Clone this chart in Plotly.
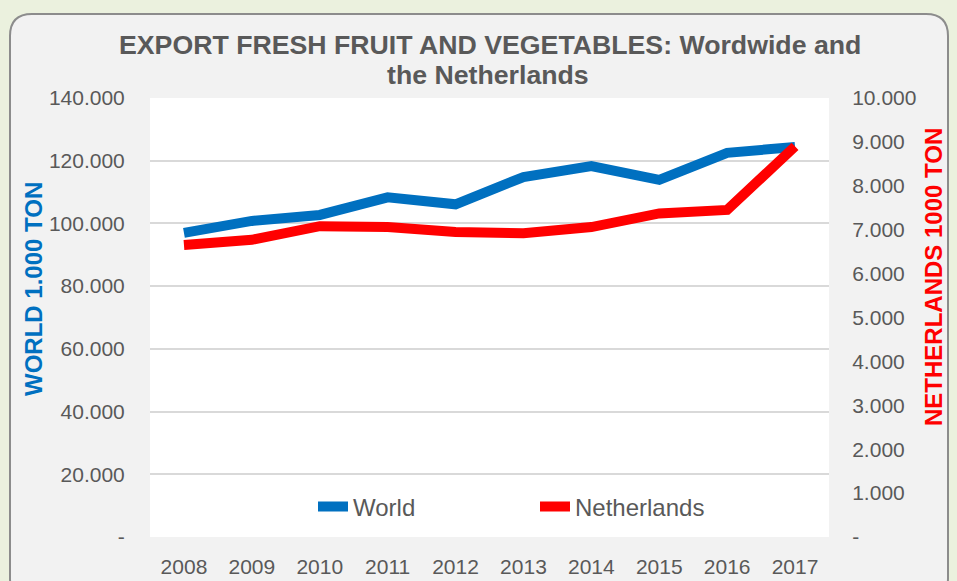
import plotly.graph_objects as go

years = ["2008", "2009", "2010", "2011", "2012", "2013", "2014", "2015", "2016", "2017"]
world = [97000, 100800, 102700, 108300, 106100, 114800, 118300, 113900, 122500, 124400]
netherlands = [6650, 6770, 7080, 7060, 6950, 6920, 7060, 7370, 7450, 8900]

left_ticks = [0, 20000, 40000, 60000, 80000, 100000, 120000, 140000]
left_labels = ["-", "20.000", "40.000", "60.000", "80.000", "100.000", "120.000", "140.000"]
right_ticks = [0, 1000, 2000, 3000, 4000, 5000, 6000, 7000, 8000, 9000, 10000]
right_labels = ["-", "1.000", "2.000", "3.000", "4.000", "5.000", "6.000", "7.000", "8.000", "9.000", "10.000"]

W, H = 957, 581
ML, MR, MT, MB = 150, 128, 98, 44
PW, PH = W - ML - MR, H - MT - MB

def px(x):
    return (x - ML) / PW

def py(y):
    return (H - MB - y) / PH

FONT = "Liberation Sans, Arial, sans-serif"
GRAY = "#595959"

fig = go.Figure()
fig.add_trace(go.Scatter(x=years, y=world, name="World", mode="lines",
                         line=dict(color="#0070c0", width=10)))
fig.add_trace(go.Scatter(x=years, y=netherlands, name="Netherlands", mode="lines",
                         line=dict(color="#ff0000", width=10), yaxis="y2"))

# rounded outer box
x0, x1, y0, y1, r = 10, 948, 14, 600, 22
path = (f"M {px(x0)},{py(y0 + r)} Q {px(x0)},{py(y0)} {px(x0 + r)},{py(y0)} "
        f"L {px(x1 - r)},{py(y0)} Q {px(x1)},{py(y0)} {px(x1)},{py(y0 + r)} "
        f"L {px(x1)},{py(y1 - r)} Q {px(x1)},{py(y1)} {px(x1 - r)},{py(y1)} "
        f"L {px(x0 + r)},{py(y1)} Q {px(x0)},{py(y1)} {px(x0)},{py(y1 - r)} Z")
shapes = [
    dict(type="path", xref="paper", yref="paper", path=path, fillcolor="#f2f2f2",
         line=dict(color="#8c8c8c", width=2), layer="below"),
    dict(type="rect", xref="paper", yref="paper", x0=0, x1=1, y0=0, y1=1,
         fillcolor="#ffffff", line=dict(width=0), layer="below"),
]

annotations = [
    dict(text="<b>EXPORT FRESH FRUIT AND VEGETABLES: Wordwide and</b>", xref="paper", yref="paper",
         x=px(490), y=py(45), xanchor="center", yanchor="middle", showarrow=False,
         font=dict(family=FONT, size=26.7, color=GRAY)),
    dict(text="<b>the Netherlands</b>", xref="paper", yref="paper",
         x=px(488), y=py(75), xanchor="center", yanchor="middle", showarrow=False,
         font=dict(family=FONT, size=26.7, color=GRAY)),
    dict(text="<b>WORLD 1.000 TON</b>", xref="paper", yref="paper", x=px(33), y=py(289),
         xanchor="center", yanchor="middle",
         textangle=-90, showarrow=False, font=dict(family=FONT, size=24, color="#0070c0")),
    dict(text="<b>NETHERLANDS 1000 TON</b>", xref="paper", yref="paper", x=px(933), y=py(277),
         xanchor="center", yanchor="middle",
         textangle=-90, showarrow=False, font=dict(family=FONT, size=24, color="#ff0000")),
]

fig.update_layout(
    width=W, height=H,
    margin=dict(l=ML, r=MR, t=MT, b=MB, autoexpand=False),
    paper_bgcolor="#ebf1de",
    plot_bgcolor="rgba(0,0,0,0)",
    font=dict(family=FONT, color=GRAY),
    shapes=shapes,
    annotations=annotations,
    showlegend=True,
    legend=dict(orientation="h", x=px(313), xanchor="left", y=py(507), yanchor="middle",
                bgcolor="rgba(0,0,0,0)", font=dict(family=FONT, size=24, color=GRAY),
                entrywidth=177, itemwidth=30),
    xaxis=dict(type="category", range=[-0.5, 9.5], showgrid=False, zeroline=False,
               automargin=False,
               ticks="outside", ticklen=11, tickcolor="rgba(0,0,0,0)",
               tickfont=dict(family=FONT, size=21, color=GRAY), fixedrange=True),
    yaxis=dict(range=[0, 140000], tickvals=left_ticks, ticktext=left_labels,
               showgrid=True, gridcolor="#d9d9d9", gridwidth=1.5, zeroline=False,
               automargin=False,
               ticks="outside", ticklen=20, tickcolor="rgba(0,0,0,0)",
               tickfont=dict(family=FONT, size=21, color=GRAY)),
    yaxis2=dict(range=[0, 10000], tickvals=right_ticks, ticktext=right_labels,
                overlaying="y", side="right", showgrid=False, zeroline=False,
                automargin=False,
                ticks="outside", ticklen=18, tickcolor="rgba(0,0,0,0)",
                tickfont=dict(family=FONT, size=21, color=GRAY)),
)

fig.write_html("out.html", config={"displayModeBar": False},
               post_script="document.body.style.margin='0';")
